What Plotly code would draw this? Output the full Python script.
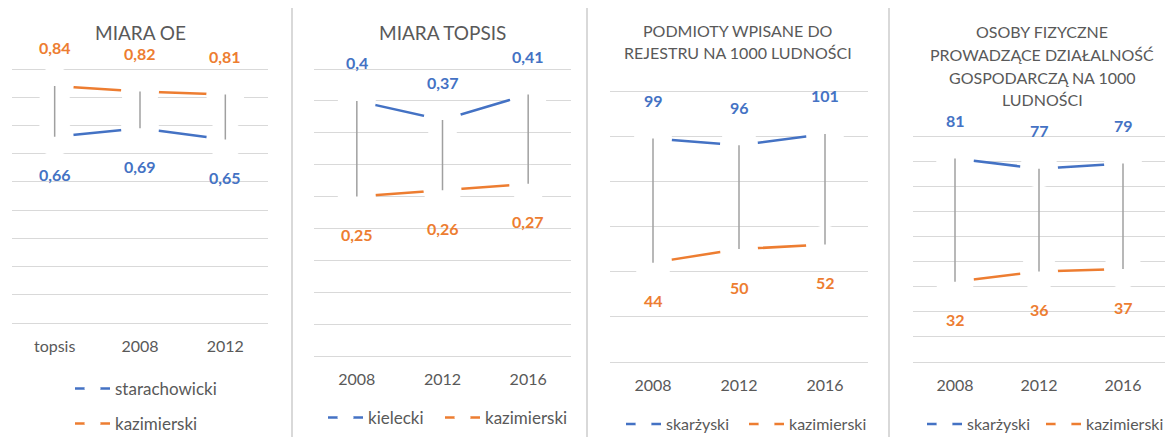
import plotly.graph_objects as go

# ---------------- data ----------------
p1_cats = ["topsis", "2008", "2012"]
p1_starachowicki = [0.66, 0.69, 0.65]
p1_kazimierski = [0.84, 0.82, 0.81]

p2_cats = ["2008", "2012", "2016"]
p2_kielecki = [0.40, 0.37, 0.41]
p2_kazimierski = [0.25, 0.26, 0.27]

p3_cats = ["2008", "2012", "2016"]
p3_skarzyski = [99, 96, 101]
p3_kazimierski = [44, 50, 52]

p4_cats = ["2008", "2012", "2016"]
p4_skarzyski = [81, 77, 79]
p4_kazimierski = [32, 36, 37]

# ---------------- style / layout ----------------
W, H = 1165, 437
BLUE = "#4472C4"
ORANGE = "#ED7D31"
GRID = "#D9D9D9"
TXT = "#595959"
HL = "#A0A0A0"
FONT = "Lato"
PAD = 1.01  # small headroom so the top gridline is drawn


def fx(px):
    return px / W


def fy(py):
    return 1 - py / H


# leg: (x where legend text starts, y centre) for each series
panels = [
    dict(cats=p1_cats, s1=("starachowicki", p1_starachowicki), s2=("kazimierski", p1_kazimierski),
         ymax=0.9, dtick=0.1, xpx=(12, 268), ypx=(69, 323),
         title=[("MIARA OE", 33)], tsize=19, tx=140,
         leg=[(115, 389), (115, 424)], lsize=17),
    dict(cats=p2_cats, s1=("kielecki", p2_kielecki), s2=("kazimierski", p2_kazimierski),
         ymax=0.45, dtick=0.05, xpx=(314, 571), ypx=(69, 356),
         title=[("MIARA TOPSIS", 33)], tsize=19, tx=442,
         leg=[(368, 418), (485, 418)], lsize=17),
    dict(cats=p3_cats, s1=("skarżyski", p3_skarzyski), s2=("kazimierski", p3_kazimierski),
         ymax=120, dtick=20, xpx=(610, 868), ypx=(91, 362),
         title=[("PODMIOTY WPISANE DO", 31), ("REJESTRU NA 1000 LUDNOŚCI", 53)], tsize=16, tx=738,
         leg=[(666, 424), (789, 424)], lsize=16),
    dict(cats=p4_cats, s1=("skarżyski", p4_skarzyski), s2=("kazimierski", p4_kazimierski),
         ymax=90, dtick=10, xpx=(913, 1165), ypx=(136, 362),
         title=[("OSOBY FIZYCZNE", 32), ("PROWADZĄCE DZIAŁALNOŚĆ", 54),
                ("GOSPODARCZĄ NA 1000", 77), ("LUDNOŚCI", 99)], tsize=16, tx=1042,
         leg=[(967, 424), (1086, 424)], lsize=16),
]

fig = go.Figure()
annotations = []
layout_extra = {}
leg_idx = 0


def fmt(v):
    return str(v).replace(".", ",")


for i, p in enumerate(panels):
    n = "" if i == 0 else str(i + 1)
    xa, ya = "x" + n, "y" + n
    y1px, y0px = p["ypx"]  # top (ymax) pixel, bottom (0) pixel
    top_px = y0px - (y0px - y1px) * PAD
    layout_extra["xaxis" + n] = dict(
        domain=[fx(p["xpx"][0]), fx(p["xpx"][1])], anchor=ya, type="category",
        categoryorder="array", categoryarray=p["cats"], range=[-0.5, 2.5],
        showgrid=False, showline=False, zeroline=False,
        ticks="outside", ticklen=9, tickcolor="rgba(0,0,0,0)",
        tickfont=dict(family=FONT, size=16, color=TXT),
    )
    layout_extra["yaxis" + n] = dict(
        domain=[fy(y0px), fy(top_px)], anchor=xa,
        range=[0, p["ymax"] * PAD], tick0=0, dtick=p["dtick"],
        showgrid=True, gridcolor=GRID, gridwidth=1,
        zeroline=True, zerolinecolor=GRID, zerolinewidth=1,
        showticklabels=False, showline=False, fixedrange=True,
    )
    (n1, v1), (n2, v2) = p["s1"], p["s2"]
    for (name, vals, col) in [(n1, v1, BLUE), (n2, v2, ORANGE)]:
        leg_idx += 1
        lname = "legend" if leg_idx == 1 else "legend" + str(leg_idx)
        lx, ly = p["leg"][0] if col == BLUE else p["leg"][1]
        layout_extra[lname] = dict(
            x=fx(lx - 45), y=fy(ly), xanchor="left", yanchor="middle",
            bgcolor="rgba(0,0,0,0)", font=dict(family=FONT, size=p["lsize"], color=TXT),
            itemwidth=35, tracegroupgap=0,
        )
        fig.add_trace(go.Scatter(
            x=p["cats"], y=vals, name=name, mode="lines+markers",
            line=dict(color=col, width=2.5),
            marker=dict(color="white", size=38, symbol="circle", line=dict(width=0)),
            xaxis=xa, yaxis=ya, legend=lname, hoverinfo="skip",
        ))
    # high-low lines
    hx, hy = [], []
    for c, a, b in zip(p["cats"], v1, v2):
        hx += [c, c, None]
        hy += [a, b, None]
    fig.add_trace(go.Scatter(
        x=hx, y=hy, mode="lines", line=dict(color=HL, width=1.5),
        xaxis=xa, yaxis=ya, showlegend=False, hoverinfo="skip",
    ))
    # data labels (x given as category index)
    for k, (a, b) in enumerate(zip(v1, v2)):
        for v, col, other in [(a, BLUE, b), (b, ORANGE, a)]:
            annotations.append(dict(
                x=k, y=v, xref=xa, yref=ya, text=fmt(v), showarrow=False,
                yshift=38 if v >= other else -38,
                font=dict(family=FONT, size=16, color=col, weight="bold"),
            ))
    # titles
    for txt, ty in p["title"]:
        annotations.append(dict(
            x=fx(p["tx"]), y=fy(ty), xref="paper", yref="paper", text=txt,
            showarrow=False, xanchor="center", yanchor="middle",
            font=dict(family=FONT, size=p["tsize"], color=TXT),
        ))

# panel separators
shapes = []
for sx in [292, 587, 889]:
    shapes.append(dict(type="line", xref="paper", yref="paper",
                       x0=fx(sx), x1=fx(sx), y0=fy(8), y1=fy(437),
                       line=dict(color=GRID, width=2)))

fig.update_layout(
    width=W, height=H, margin=dict(l=0, r=0, t=0, b=0, autoexpand=False),
    paper_bgcolor="white", plot_bgcolor="white",
    annotations=annotations, shapes=shapes, showlegend=True,
    **layout_extra,
)

fig.write_html("out.html", config={"displayModeBar": False},
               post_script="document.body.style.margin='0';document.body.style.overflow='hidden';")
